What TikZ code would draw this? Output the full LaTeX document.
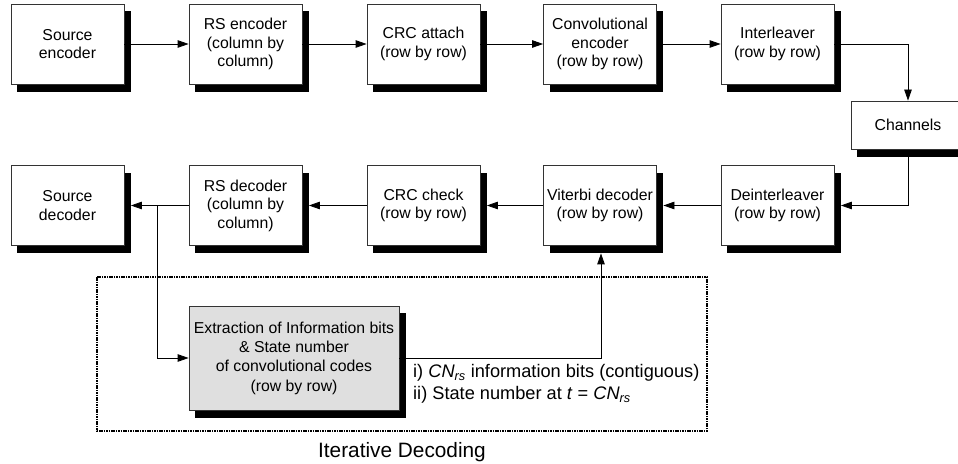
\documentclass[tikz,border=0pt]{standalone}
\usepackage{fontspec}
\setmainfont{Liberation Sans}
\usetikzlibrary{arrows.meta,backgrounds}
\begin{document}
\begin{tikzpicture}[x=1bp,y=-1bp,
  blk/.style={draw=black!80, line width=0.8bp, fill=white, rectangle,
    inner sep=0pt, minimum width=113bp, minimum height=80bp, align=center,
    font=\fontsize{15.8bp}{18.5bp}\selectfont},
  flow/.style={line width=0.8bp, -{Triangle[length=11bp,width=7.5bp]}},
  lbl/.style={anchor=base west, inner sep=0pt, font=\fontsize{18.2bp}{21.5bp}\selectfont}]
\useasboundingbox (0,0) rectangle (958,464);
\clip (0,0) rectangle (958,464);

% iterative decoding frame
\draw[line width=1.8bp, dash pattern=on 1.6bp off 0.8bp] (97,277) rectangle (707,431);
\node[anchor=base, inner sep=0pt, font=\fontsize{20.8bp}{24bp}\selectfont] (itlbl) at (402,457) {Iterative Decoding};

% transmitter chain
\node[blk] (senc)  at (67.5,44)  {Source\\encoder};
\node[blk] (rsenc) at (245.5,44) {RS encoder\\(column by\\column)};
\node[blk] (crc)   at (423.5,44) {CRC attach\\(row by row)};
\node[blk] (conv)  at (600,44)   {Convolutional\\encoder\\(row by row)};
\node[blk] (intl)  at (777.5,44) {Interleaver\\(row by row)};
\node[blk, minimum height=48bp, minimum width=114bp] (chan) at (908,125) {Channels};

% receiver chain
\node[blk] (sdec)   at (67.5,205.5)  {Source\\decoder};
\node[blk] (rsdec)  at (245.5,205.5) {RS decoder\\(column by\\column)};
\node[blk] (crcchk) at (423.5,205.5) {CRC check\\(row by row)};
\node[blk] (vit)    at (600,205.5)   {Viterbi decoder\\(row by row)};
\node[blk] (deint)  at (777.5,205.5) {Deinterleaver\\(row by row)};

% extraction block
\node[blk, fill=gray!25, minimum width=210bp, minimum height=104bp,
  font=\fontsize{15.8bp}{19.3bp}\selectfont] (ext) at (294,358)
  {Extraction of Information bits\\\& State number\\of convolutional codes\\(row by row)};

% solid black drop shadows behind every block
\begin{scope}[on background layer]
  \foreach \b in {senc,rsenc,crc,conv,intl,chan,sdec,rsdec,crcchk,vit,deint,ext}
    \fill[black] ([xshift=6.5bp,yshift=-7.5bp]\b.south west) rectangle ([xshift=6.5bp,yshift=-7.5bp]\b.north east);
\end{scope}

% connectors
\draw[flow] (senc.east) -- (rsenc.west);
\draw[flow] (rsenc.east) -- (crc.west);
\draw[flow] (crc.east) -- (conv.west);
\draw[flow] (conv.east) -- (intl.west);
\draw[flow] (intl.east) -| (chan.north);
\draw[flow] ([yshift=-7.5bp]chan.south) |- ([xshift=6.5bp]deint.east);
\draw[flow] (deint.west) -- ([xshift=6.5bp]vit.east);
\draw[flow] (vit.west) -- ([xshift=6.5bp]crcchk.east);
\draw[flow] (crcchk.west) -- ([xshift=6.5bp]rsdec.east);
\draw[flow] (rsdec.west) -- ([xshift=6.5bp]sdec.east);
\coordinate (br) at (157,205.5);
\draw[flow] (br) |- (ext.west);
\draw[flow] (ext.east) -| ([xshift=1bp,yshift=-7.5bp]vit.south);

% feedback labels
\node[lbl] (l1) at (413,378) {i) \textit{CN\textsubscript{rs}} information bits (contiguous)};
\node[lbl] (l2) at (413,399.5) {ii) State number at \textit{t} = \textit{CN\textsubscript{rs}}};
\end{tikzpicture}
\end{document}
